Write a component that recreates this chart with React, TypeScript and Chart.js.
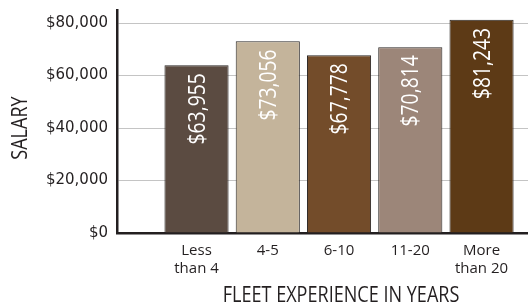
import { useEffect, useRef } from "react";
import { Chart, registerables } from "chart.js";

Chart.register(...registerables);

const categories: string[][] = [["Less", "than 4"], ["4-5"], ["6-10"], ["11-20"], ["More", "than 20"]];
const salaries: number[] = [63955, 73056, 67778, 70814, 81243];
const barColors: string[] = ["#5b4b41", "#c4b49b", "#734c2a", "#9c8679", "#5d3a16"];
const yTickValues: number[] = [0, 20000, 40000, 60000, 80000];
const xTitle = "FLEET EXPERIENCE IN YEARS";
const yTitle = "SALARY";

const fmt = (v: number) => "$" + v.toLocaleString("en-US");
const TEXT = "#231f20";

const valueLabelPlugin = {
  id: "valueLabels",
  afterDatasetsDraw(chart: any) {
    const { ctx } = chart;
    const meta = chart.getDatasetMeta(0);
    ctx.save();
    ctx.fillStyle = "#ffffff";
    ctx.font = '23px "Open Sans"';
    ctx.textAlign = "right";
    ctx.textBaseline = "alphabetic";
    meta.data.forEach((bar: any, i: number) => {
      ctx.save();
      ctx.translate(bar.x, bar.y + 8);
      ctx.rotate(-Math.PI / 2);
      ctx.scale(0.84, 1);
      ctx.fillText(fmt(salaries[i]), 0, 8);
      ctx.restore();
    });
    ctx.restore();
  },
};

const axisTitlePlugin = {
  id: "axisTitles",
  afterDraw(chart: any) {
    const { ctx } = chart;
    const xs = chart.scales.x;
    const ys = chart.scales.y;
    ctx.save();
    ctx.fillStyle = TEXT;
    ctx.font = '21px "Open Sans"';
    ctx.textAlign = "center";
    ctx.textBaseline = "alphabetic";
    ctx.save();
    ctx.translate(xs.getPixelForValue(2) + 2, 302);
    ctx.scale(0.86, 1);
    ctx.fillText(xTitle, 0, 0);
    ctx.restore();
    ctx.save();
    ctx.translate(27, (ys.getPixelForValue(0) + ys.getPixelForValue(80000)) / 2);
    ctx.rotate(-Math.PI / 2);
    ctx.scale(0.86, 1);
    ctx.fillText(yTitle, 0, 0);
    ctx.restore();
    ctx.restore();
  },
};

export default function App() {
  const ref = useRef<HTMLCanvasElement | null>(null);
  useEffect(() => {
    document.body.style.margin = "0";
    const chart = new Chart(ref.current as HTMLCanvasElement, {
      type: "bar",
      data: {
        datasets: [
          {
            data: salaries.map((v, i) => ({ x: i, y: v })),
            backgroundColor: barColors,
            borderColor: "#2a2624",
            borderWidth: 1,
            barPercentage: 0.9,
            categoryPercentage: 1,
          },
        ],
      },
      options: {
        animation: false,
        responsive: true,
        maintainAspectRatio: false,
        layout: { padding: { top: 10, right: 0, left: 0, bottom: 0 } },
        plugins: { legend: { display: false }, tooltip: { enabled: false } },
        scales: {
          x: {
            type: "linear",
            offset: false,
            min: -1.116,
            max: 4.652,
            afterBuildTicks: (scale: any) => {
              scale.ticks = categories.map((_, i) => ({ value: i }));
            },
            afterFit: (scale: any) => {
              scale.height = 72;
              scale.paddingLeft = 0;
              scale.paddingRight = 0;
            },
            grid: { display: false, drawTicks: false, offset: false },
            border: { display: true, color: TEXT, width: 2.5 },
            ticks: {
              autoSkip: false,
              maxRotation: 0,
              padding: 8,
              color: TEXT,
              font: { family: '"Open Sans"', size: 15, lineHeight: 1.25 },
              callback: (v: any) => categories[v as number] ?? "",
            },
            title: { display: false },
          },
          y: {
            min: 0,
            max: 85000,
            afterBuildTicks: (scale: any) => {
              scale.ticks = yTickValues.map((v) => ({ value: v }));
            },
            afterFit: (scale: any) => {
              scale.width = 117;
              scale.paddingTop = 0;
              scale.paddingBottom = 0;
            },
            grid: { color: "#c4c4c4", lineWidth: 1, drawTicks: false },
            border: { display: true, color: TEXT, width: 2.5 },
            ticks: {
              padding: 9,
              color: TEXT,
              font: { family: '"DejaVu Sans"', size: 15 },
              callback: (v: any) => fmt(Number(v)),
            },
            title: { display: false },
          },
        },
      },
      plugins: [valueLabelPlugin, axisTitlePlugin],
    } as any);
    return () => chart.destroy();
  }, []);
  return (
    <div style={{ width: 528, height: 305, position: "relative" }}>
      <canvas ref={ref} />
    </div>
  );
}
